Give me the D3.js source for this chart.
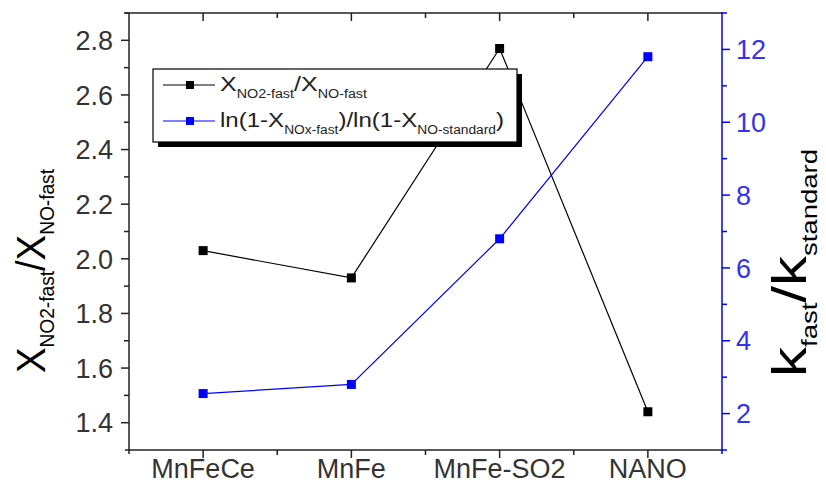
<!DOCTYPE html>
<html>
<head>
<meta charset="utf-8">
<script src="https://cdn.jsdelivr.net/npm/d3@7/dist/d3.min.js"></script>
<style>
  body { margin: 0; background: #fff; }
  svg { display: block; font-family: "Liberation Sans", Arial, sans-serif; }
</style>
</head>
<body>
<svg id="chart" width="826" height="488"></svg>
<script>
// Catalysts on the x axis
const categories = ["MnFeCe", "MnFe", "MnFe-SO2", "NANO"];
// Left axis series: X(NO2-fast) / X(NO-fast)
const ratioValues = [2.03, 1.93, 2.77, 1.44];
// Right axis series: k_fast / k_standard
const kValues = [2.55, 2.8, 6.8, 11.8];
const leftTicks = [1.4, 1.6, 1.8, 2.0, 2.2, 2.4, 2.6, 2.8];
const rightTicks = [2, 4, 6, 8, 10, 12];

const svg = d3.select("#chart");
const margin = { left: 129, right: 104, top: 13, bottom: 38 };
const W = 826, H = 488;
const x0 = margin.left, x1 = W - margin.right, y0 = margin.top, y1 = H - margin.bottom;

const x = d3.scaleBand().domain(categories).range([x0, x1]);
const yL = d3.scaleLinear().domain([1.3, 2.9]).range([y1, y0]);
const yR = d3.scaleLinear().domain([1, 13]).range([y1, y0]);
const cx = d => x(d) + x.bandwidth() / 2;

const tickColor = "#222";
const blue = "#0000ff";
const tickFont = 27;

// Bottom axis: major ticks at categories, minor at band edges
const gB = svg.append("g").attr("transform", `translate(0,${y1})`);
gB.append("line").attr("x1", x0 - 4).attr("x2", x1).attr("stroke", tickColor).attr("stroke-width", 1.5);
categories.forEach(c => {
  gB.append("line").attr("x1", cx(c)).attr("x2", cx(c)).attr("y1", 0).attr("y2", 8).attr("stroke", tickColor).attr("stroke-width", 1.5);
  gB.append("text").attr("x", cx(c)).attr("y", 28).attr("text-anchor", "middle")
    .attr("font-size", tickFont).attr("fill", "#333").text(c);
});
categories.slice(1).forEach(c => {
  gB.append("line").attr("x1", x(c)).attr("x2", x(c)).attr("y1", 0).attr("y2", 5).attr("stroke", tickColor).attr("stroke-width", 1.5);
});

// Top axis mirror with inward ticks
const gT = svg.append("g").attr("transform", `translate(0,${y0})`);
gT.append("line").attr("x1", x0 - 4).attr("x2", x1).attr("stroke", tickColor).attr("stroke-width", 1.5);
categories.forEach(c => {
  gT.append("line").attr("x1", cx(c)).attr("x2", cx(c)).attr("y1", 0).attr("y2", 8).attr("stroke", tickColor).attr("stroke-width", 1.5);
});
categories.slice(1).forEach(c => {
  gT.append("line").attr("x1", x(c)).attr("x2", x(c)).attr("y1", 0).attr("y2", 5).attr("stroke", tickColor).attr("stroke-width", 1.5);
});

// Left axis
const gL = svg.append("g").attr("transform", `translate(${x0},0)`);
gL.append("line").attr("y1", y0).attr("y2", y1 + 4).attr("stroke", tickColor).attr("stroke-width", 1.5);
d3.range(1.4, 2.95, 0.1).forEach(v => {
  const major = leftTicks.some(t => Math.abs(t - v) < 1e-6);
  gL.append("line").attr("x1", major ? -8 : -5).attr("x2", 0).attr("y1", yL(v)).attr("y2", yL(v))
    .attr("stroke", tickColor).attr("stroke-width", 1.5);
});
leftTicks.forEach(t => {
  gL.append("text").attr("x", -16).attr("y", yL(t)).attr("dy", "0.36em").attr("text-anchor", "end")
    .attr("font-size", tickFont).attr("fill", "#333").text(t.toFixed(1));
});

// Right axis (blue)
const gR = svg.append("g").attr("transform", `translate(${x1},0)`);
gR.append("line").attr("y1", y0 - 1).attr("y2", y1 + 4).attr("stroke", blue).attr("stroke-width", 1.5);
d3.range(1, 13.5, 1).forEach(v => {
  const major = rightTicks.includes(v);
  gR.append("line").attr("x1", 0).attr("x2", major ? 8 : 5).attr("y1", yR(v)).attr("y2", yR(v))
    .attr("stroke", blue).attr("stroke-width", 1.5);
});
rightTicks.forEach(t => {
  gR.append("text").attr("x", 14).attr("y", yR(t)).attr("dy", "0.36em")
    .attr("font-size", tickFont).attr("fill", "#3333ee").text(t);
});

// Axis titles with subscripts
const lt = svg.append("text").attr("transform", `translate(45,${271}) rotate(-90)`)
  .attr("text-anchor", "middle").attr("fill", "#000")
  .attr("textLength", 204).attr("lengthAdjust", "spacingAndGlyphs");
lt.append("tspan").attr("font-size", 40).text("X");
lt.append("tspan").attr("font-size", 20).attr("dy", 9).text("NO2-fast");
lt.append("tspan").attr("font-size", 40).attr("dy", -9).text("/X");
lt.append("tspan").attr("font-size", 20).attr("dy", 9).text("NO-fast");

const rt = svg.append("text").attr("transform", `translate(806,${263}) rotate(-90)`)
  .attr("text-anchor", "middle").attr("fill", "#000")
  .attr("textLength", 228).attr("lengthAdjust", "spacingAndGlyphs");
rt.append("tspan").attr("font-size", 48).text("k");
rt.append("tspan").attr("font-size", 22).attr("dy", 11).text("fast");
rt.append("tspan").attr("font-size", 48).attr("dy", -11).text("/k");
rt.append("tspan").attr("font-size", 22).attr("dy", 11).text("standard");

// Series
const lineL = d3.line().x((d, i) => cx(categories[i])).y(d => yL(d));
const lineR = d3.line().x((d, i) => cx(categories[i])).y(d => yR(d));

svg.append("path").datum(kValues).attr("d", lineR).attr("fill", "none").attr("stroke", blue).attr("stroke-width", 1.2);
svg.selectAll(".mk-r").data(kValues).enter().append("rect")
  .attr("x", (d, i) => cx(categories[i]) - 4.5).attr("y", d => yR(d) - 4.5)
  .attr("width", 9).attr("height", 9).attr("fill", blue);

svg.append("path").datum(ratioValues).attr("d", lineL).attr("fill", "none").attr("stroke", "#000").attr("stroke-width", 1.2);
svg.selectAll(".mk-l").data(ratioValues).enter().append("rect")
  .attr("x", (d, i) => cx(categories[i]) - 4.5).attr("y", d => yL(d) - 4.5)
  .attr("width", 9).attr("height", 9).attr("fill", "#000");

// Legend with drop shadow
const lg = svg.append("g").attr("transform", "translate(153,69)");
lg.append("rect").attr("x", 5).attr("y", 5).attr("width", 364).attr("height", 73).attr("fill", "#000");
lg.append("rect").attr("x", 0).attr("y", 0).attr("width", 364).attr("height", 73).attr("fill", "#fff")
  .attr("stroke", "#000").attr("stroke-width", 1.2);

const rows = [
  { y: 16, color: "#000", len: 147, parts: [["X", 0], ["NO2-fast", 1], ["/X", 0], ["NO-fast", 1]] },
  { y: 52, color: blue, len: 284, parts: [["ln(1-X", 0], ["NOx-fast", 1], [")/ln(1-X", 0], ["NO-standard", 1], [")", 0]] }
];
rows.forEach(r => {
  lg.append("line").attr("x1", 10).attr("x2", 62).attr("y1", r.y).attr("y2", r.y).attr("stroke", r.color).attr("stroke-width", 1.2);
  lg.append("rect").attr("x", 37 - 4).attr("y", r.y - 4).attr("width", 8).attr("height", 8).attr("fill", r.color);
  const t = lg.append("text").attr("x", 67).attr("y", r.y + 6).attr("fill", "#222")
    .attr("textLength", r.len).attr("lengthAdjust", "spacingAndGlyphs");
  let sub = 0;
  r.parts.forEach(([s, isSub]) => {
    const dy = isSub === sub ? 0 : (isSub ? 7 : -7);
    sub = isSub;
    t.append("tspan").attr("font-size", isSub ? 12 : 21).attr("dy", dy).text(s);
  });
});
</script>
</body>
</html>
